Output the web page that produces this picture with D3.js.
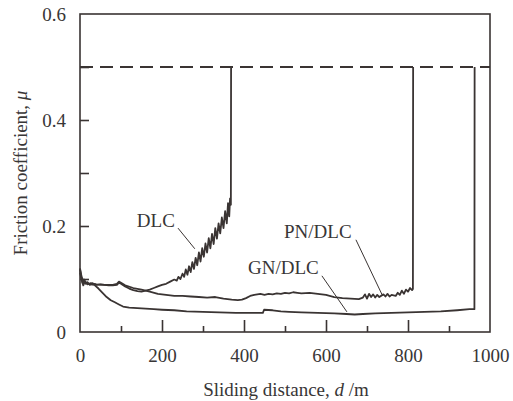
<!DOCTYPE html>
<html>
<head>
<meta charset="utf-8">
<script src="https://cdn.jsdelivr.net/npm/d3@7"></script>
<style>
  html, body { margin: 0; padding: 0; background: #fff; }
  svg { display: block; }
  text { font-family: "Liberation Serif", "Times New Roman", serif; fill: #383636; }
</style>
</head>
<body>
<svg id="chart" width="513" height="401"></svg>
<script>
// ---- data ----
const xTicks = [0, 200, 400, 600, 800, 1000];
const xMinorTicks = [100, 300, 500, 700, 900];
const yTicks = [0, 0.2, 0.4, 0.6];
const yMinorTicks = [0.1, 0.3, 0.5];
const limitValue = 0.5;

const dlcX = [0, 3, 6, 10, 14, 18, 24, 30, 40, 50, 60, 70, 80, 90, 95, 100, 110, 120, 130, 140, 150, 160, 170, 180, 190, 200, 210, 220, 230, 236, 240, 245, 250, 254, 258, 262, 266, 270, 274, 278, 282, 286, 290, 294, 298, 302, 306, 310, 314, 318, 322, 326, 330, 334, 338, 342, 346, 350, 354, 358, 361, 364, 366, 368, 368.5];
const dlcY = [0.118, 0.104, 0.093, 0.099, 0.091, 0.094, 0.089, 0.092, 0.089, 0.090, 0.089, 0.088, 0.088, 0.089, 0.093, 0.091, 0.086, 0.082, 0.079, 0.077, 0.076, 0.078, 0.080, 0.083, 0.086, 0.089, 0.091, 0.095, 0.099, 0.097, 0.104, 0.100, 0.110, 0.104, 0.118, 0.108, 0.124, 0.113, 0.132, 0.119, 0.140, 0.126, 0.150, 0.133, 0.158, 0.142, 0.167, 0.150, 0.177, 0.158, 0.185, 0.166, 0.196, 0.176, 0.205, 0.186, 0.216, 0.196, 0.228, 0.205, 0.243, 0.218, 0.252, 0.240, 0.5];

const pnX = [0, 4, 8, 12, 18, 25, 40, 60, 80, 90, 95, 100, 110, 130, 150, 170, 190, 210, 230, 250, 270, 290, 310, 330, 350, 370, 385, 395, 405, 415, 425, 440, 450, 460, 470, 480, 490, 500, 510, 520, 530, 540, 560, 580, 600, 620, 640, 660, 680, 690, 695, 700, 705, 710, 715, 720, 725, 730, 740, 745, 750, 755, 760, 770, 775, 780, 785, 790, 795, 800, 805, 810, 812, 812.5];
const pnY = [0.112, 0.098, 0.088, 0.096, 0.090, 0.092, 0.090, 0.089, 0.089, 0.091, 0.095, 0.093, 0.088, 0.083, 0.080, 0.076, 0.072, 0.070, 0.068, 0.068, 0.067, 0.066, 0.065, 0.066, 0.063, 0.061, 0.060, 0.061, 0.064, 0.068, 0.070, 0.072, 0.070, 0.072, 0.071, 0.073, 0.072, 0.074, 0.073, 0.075, 0.074, 0.073, 0.074, 0.072, 0.070, 0.066, 0.064, 0.063, 0.062, 0.065, 0.071, 0.063, 0.072, 0.066, 0.071, 0.065, 0.070, 0.066, 0.071, 0.067, 0.072, 0.067, 0.070, 0.068, 0.074, 0.070, 0.078, 0.072, 0.080, 0.076, 0.083, 0.079, 0.081, 0.5];

const gnX = [0, 4, 8, 15, 25, 35, 45, 55, 65, 75, 85, 95, 105, 120, 140, 160, 180, 200, 230, 260, 300, 340, 380, 420, 446, 449, 470, 490, 510, 540, 580, 620, 650, 670, 690, 720, 760, 800, 840, 880, 920, 950, 962, 962.5];
const gnY = [0.120, 0.104, 0.095, 0.092, 0.090, 0.089, 0.082, 0.074, 0.066, 0.060, 0.056, 0.052, 0.048, 0.046, 0.045, 0.044, 0.043, 0.042, 0.041, 0.039, 0.038, 0.037, 0.036, 0.036, 0.036, 0.042, 0.041, 0.039, 0.038, 0.037, 0.036, 0.035, 0.034, 0.033, 0.034, 0.035, 0.036, 0.037, 0.038, 0.039, 0.041, 0.043, 0.043, 0.5];

const seriesNames = ["DLC", "PN/DLC", "GN/DLC"];
// label anchor (data coords) and leader line ends (data coords)
const labelPos = [[185, 0.198], [580, 0.177], [496, 0.109]];
const leaderStart = [[239, 0.196], [673, 0.174], [590, 0.106]];
const leaderEnd = [[280, 0.157], [737, 0.07], [651, 0.038]];

// ---- drawing ----
const svg = d3.select("#chart");
const ink = "#3a3433";
const textInk = "#383636";
const fs = 19;
const mLeft = 80, mRight = 490, mTop = 14, mBottom = 332;
const x = d3.scaleLinear().domain([0, 1000]).range([mLeft, mRight]);
const y = d3.scaleLinear().domain([0, 0.6]).range([mBottom, mTop]);

// frame
svg.append("rect").attr("x", mLeft).attr("y", mTop).attr("width", mRight - mLeft).attr("height", mBottom - mTop)
  .attr("fill", "none").attr("stroke", ink).attr("stroke-width", 1.6);

// x axis (ticks inward)
const xAxis = d3.axisBottom(x).tickValues(xTicks).tickSize(-12).tickPadding(17).tickFormat(d3.format("d"));
const gx = svg.append("g").attr("transform", `translate(0,${mBottom})`).call(xAxis);
gx.select(".domain").remove();
gx.selectAll(".tick line").attr("stroke", ink).attr("stroke-width", 1.6);
gx.selectAll(".tick text").attr("font-size", fs).attr("fill", textInk).style("font-family", "Liberation Serif");
gx.selectAll(".tick").filter(d => d === 0 || d === 1000).select("line").remove();
const gxm = svg.append("g").attr("transform", `translate(0,${mBottom})`)
  .call(d3.axisBottom(x).tickValues(xMinorTicks).tickSize(-6).tickFormat(""));
gxm.select(".domain").remove();
gxm.selectAll(".tick line").attr("stroke", ink).attr("stroke-width", 1.6);

// y axis (ticks inward)
const yAxis = d3.axisLeft(y).tickValues(yTicks).tickSize(-9).tickPadding(14).tickFormat(d => d === 0 ? "0" : d3.format(".1f")(d));
const gy = svg.append("g").attr("transform", `translate(${mLeft},0)`).call(yAxis);
gy.select(".domain").remove();
gy.selectAll(".tick line").attr("stroke", ink).attr("stroke-width", 1.6);
gy.selectAll(".tick text").attr("font-size", fs).attr("fill", textInk).style("font-family", "Liberation Serif");
gy.selectAll(".tick").filter(d => d === 0 || d === 0.6).select("line").remove();
const gym = svg.append("g").attr("transform", `translate(${mLeft},0)`)
  .call(d3.axisLeft(y).tickValues(yMinorTicks).tickSize(-9).tickFormat(""));
gym.select(".domain").remove();
gym.selectAll(".tick line").attr("stroke", ink).attr("stroke-width", 1.6);

// dashed limit line
svg.append("line").attr("x1", x(0)).attr("x2", x(1000)).attr("y1", y(limitValue)).attr("y2", y(limitValue))
  .attr("stroke", ink).attr("stroke-width", 1.8).attr("stroke-dasharray", "13,7");

// series
const line = d3.line().x(d => x(d[0])).y(d => y(d[1]));
const series = [d3.zip(dlcX, dlcY), d3.zip(pnX, pnY), d3.zip(gnX, gnY)];
series.forEach(s => {
  svg.append("path").datum(s).attr("d", line).attr("fill", "none")
    .attr("stroke", ink).attr("stroke-width", 1.8).attr("stroke-linejoin", "round");
});

// labels and leaders
seriesNames.forEach((name, i) => {
  svg.append("text").attr("x", x(labelPos[i][0])).attr("y", y(labelPos[i][1]))
    .attr("text-anchor", "middle").attr("font-size", fs).attr("fill", textInk).text(name);
  svg.append("line")
    .attr("x1", x(leaderStart[i][0])).attr("y1", y(leaderStart[i][1]))
    .attr("x2", x(leaderEnd[i][0])).attr("y2", y(leaderEnd[i][1]))
    .attr("stroke", ink).attr("stroke-width", 1);
});

// axis titles
const xt = svg.append("text").attr("x", 286).attr("y", 396).attr("text-anchor", "middle").attr("font-size", fs).attr("fill", textInk);
xt.append("tspan").text("Sliding distance, ");
xt.append("tspan").attr("font-style", "italic").text("d");
xt.append("tspan").text(" /m");

const yt = svg.append("text").attr("transform", "translate(27,173) rotate(-90)").attr("text-anchor", "middle").attr("font-size", fs).attr("fill", textInk);
yt.append("tspan").text("Friction coefficient, ");
yt.append("tspan").attr("font-style", "italic").text("μ");
</script>
</body>
</html>
